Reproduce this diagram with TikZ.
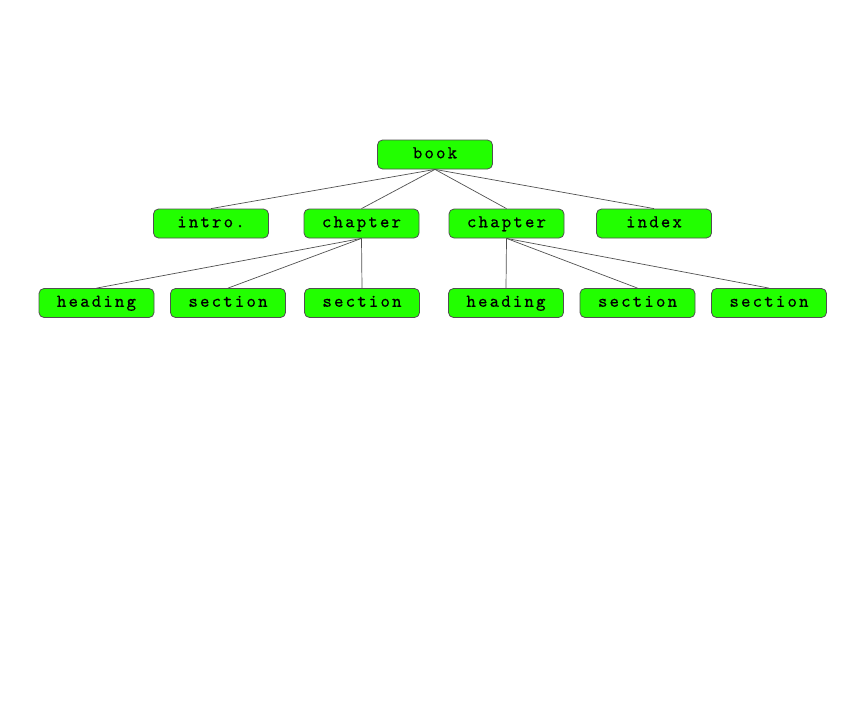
\documentclass[tikz,border=0pt]{standalone}
\usepackage{fontspec}
\newfontfamily\boxfont[LetterSpace=12,FakeBold=0.4]{lmmono10-regular.otf}
\definecolor{boxgreen}{RGB}{34,255,0}
\definecolor{edgegray}{RGB}{80,80,80}

\begin{document}
\begin{tikzpicture}[x=1pt,y=-1pt]
    \tikzstyle{part}=[draw=edgegray, fill=boxgreen, rounded corners=5pt, line width=0.8pt,
      minimum width=115pt, minimum height=29pt, inner sep=0pt,
      text height=11pt, text depth=3.5pt,
      font=\boxfont\fontsize{18}{20}\selectfont]
    \tikzstyle{link}=[draw=edgegray, line width=0.7pt]
    \useasboundingbox (0,0) rectangle (864,710);
    % top level
    \node [part] (book) at (435,154.5) {book};
    % second level
    \node [part] (intro) at (211,223.5) {intro.};
    \node [part] (chapA) at (361.5,223.5) {chapter};
    \node [part] (chapB) at (506.5,223.5) {chapter};
    \node [part] (index) at (654,223.5) {index};
    % third level
    \node [part] (headA) at (96.5,303) {heading};
    \node [part] (secA) at (228,303) {section};
    \node [part] (secB) at (362,303) {section};
    \node [part] (headB) at (506,303) {heading};
    \node [part] (secC) at (637.5,303) {section};
    \node [part] (secD) at (769,303) {section};
    % links
    \draw [link] (book.south) -- (intro.north);
    \draw [link] (book.south) -- (chapA.north);
    \draw [link] (book.south) -- (chapB.north);
    \draw [link] (book.south) -- (index.north);
    \draw [link] (chapA.south) -- (headA.north);
    \draw [link] (chapA.south) -- (secA.north);
    \draw [link] (chapA.south) -- (secB.north);
    \draw [link] (chapB.south) -- (headB.north);
    \draw [link] (chapB.south) -- (secC.north);
    \draw [link] (chapB.south) -- (secD.north);
\end{tikzpicture}
\end{document}
